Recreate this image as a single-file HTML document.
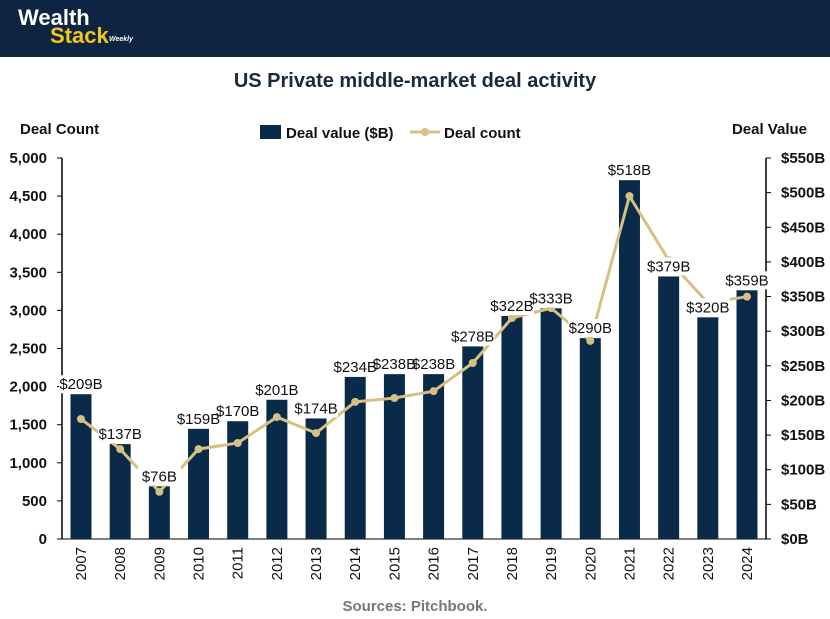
<!DOCTYPE html>
<html><head><meta charset="utf-8"><style>
body{margin:0;background:#fff;font-family:"Liberation Sans",sans-serif}
svg{display:block}
</style></head><body>
<svg id="c" width="830" height="619" xmlns="http://www.w3.org/2000/svg">
<rect x="0" y="0" width="830" height="57" fill="#0d2442"/>
<text x="18" y="25" font-size="22" font-weight="bold" fill="#fff">Wealth</text>
<text x="50" y="43" font-size="22" font-weight="bold" fill="#f5c518">Stack</text>
<text x="109" y="41" font-size="7" font-weight="bold" font-style="italic" fill="#fff">Weekly</text>
<text x="415" y="87" font-size="20" font-weight="bold" fill="#1a2a3a" text-anchor="middle">US Private middle-market deal activity</text>
<text x="20" y="134" font-size="15" font-weight="bold" fill="#111">Deal Count</text>
<text x="807" y="134" font-size="15" font-weight="bold" fill="#111" text-anchor="end">Deal Value</text>
<g>
<rect x="260" y="125" width="21" height="14" fill="#0a2a4a"/>
<text x="286" y="138" font-size="15" font-weight="bold" fill="#111">Deal value ($B)</text>
<line x1="410" y1="132" x2="440" y2="132" stroke="#d6c083" stroke-width="3"/>
<circle cx="425" cy="132" r="4" fill="#d6c083"/>
<text x="444" y="138" font-size="15" font-weight="bold" fill="#111">Deal count</text>
</g>
<text x="415" y="611" font-size="15" font-weight="bold" fill="#777" text-anchor="middle">Sources: Pitchbook.</text>
<g id="plot"></g>
</svg>
<script>
const years=["2007","2008","2009","2010","2011","2012","2013","2014","2015","2016","2017","2018","2019","2020","2021","2022","2023","2024"];
const dealValue=[209,137,76,159,170,201,174,234,238,238,278,322,333,290,518,379,320,359];
const dealCount=[1575,1180,620,1180,1260,1600,1390,1800,1850,1940,2310,2900,3030,2600,4500,3660,3100,3180];
const leftTicks=[0,500,1000,1500,2000,2500,3000,3500,4000,4500,5000];
const rightTicks=[0,50,100,150,200,250,300,350,400,450,500,550];
const NS="http://www.w3.org/2000/svg";
const g=document.getElementById('plot');
const X0=62,X1=766,Y0=539,Y1=158;
const yL=v=>Y0-(v/5000)*(Y0-Y1);
const yR=v=>Y0-(v/550)*(Y0-Y1);
const xC=i=>81+i*(747-81)/(years.length-1);
function mk(t,a){const e=document.createElementNS(NS,t);for(const k in a)e.setAttribute(k,a[k]);g.appendChild(e);return e;}
let e;
e=mk('line',{x1:X0,y1:Y1,x2:X0,y2:Y0,stroke:'#000','stroke-width':1.5});


e=mk('line',{x1:X1,y1:Y1,x2:X1,y2:Y0,stroke:'#000','stroke-width':1.5});


e=mk('line',{x1:X0,y1:Y0,x2:X1,y2:Y0,stroke:'#000','stroke-width':1});


leftTicks.forEach(v=>{
 e=mk('line',{x1:X0-5,y1:yL(v),x2:X0,y2:yL(v),stroke:'#000'});
 
 
 e=mk('text',{x:X0-15,y:yL(v)+5,'font-size':15,'font-weight':'bold',fill:'#111','text-anchor':'end'});
 e.textContent=v.toLocaleString('en-US');
 
 
});
rightTicks.forEach(v=>{
 e=mk('line',{x1:X1,y1:yR(v),x2:X1+5,y2:yR(v),stroke:'#000'});
 
 
 e=mk('text',{x:X1+15,y:yR(v)+5,'font-size':15,'font-weight':'bold',fill:'#111'});
 e.textContent='$'+v+'B';
 
 
});
years.forEach((yr,i)=>{
 e=mk('rect',{x:xC(i)-10.5,y:yR(dealValue[i]),width:21,height:Y0-yR(dealValue[i]),fill:'#0a2a4a'});
 
 
 e=mk('text',{x:0,y:0,'font-size':15,fill:'#111','text-anchor':'end',transform:`translate(${xC(i)+5},${Y0+8}) rotate(-90)`});
 e.textContent=yr;
 
 
});
e=mk('polyline',{points:dealCount.map((v,i)=>xC(i)+','+yL(v)).join(' '),fill:'none',stroke:'#d6c083','stroke-width':3});


dealCount.forEach((v,i)=>{
 e=mk('circle',{cx:xC(i),cy:yL(v),r:4,fill:'#d6c083'});
 
 
});
dealValue.forEach((v,i)=>{
 const ty=yR(v)-5;
 e=mk('rect',{x:xC(i)-22,y:ty-14,width:44,height:18,fill:'#fff'});
 
 
});
dealValue.forEach((v,i)=>{
 const ty=yR(v)-5;
 e=mk('text',{x:xC(i),y:ty,'font-size':15,fill:'#111','text-anchor':'middle'});
 e.textContent='$'+v+'B';
 
 
});
</script>
</body></html>
